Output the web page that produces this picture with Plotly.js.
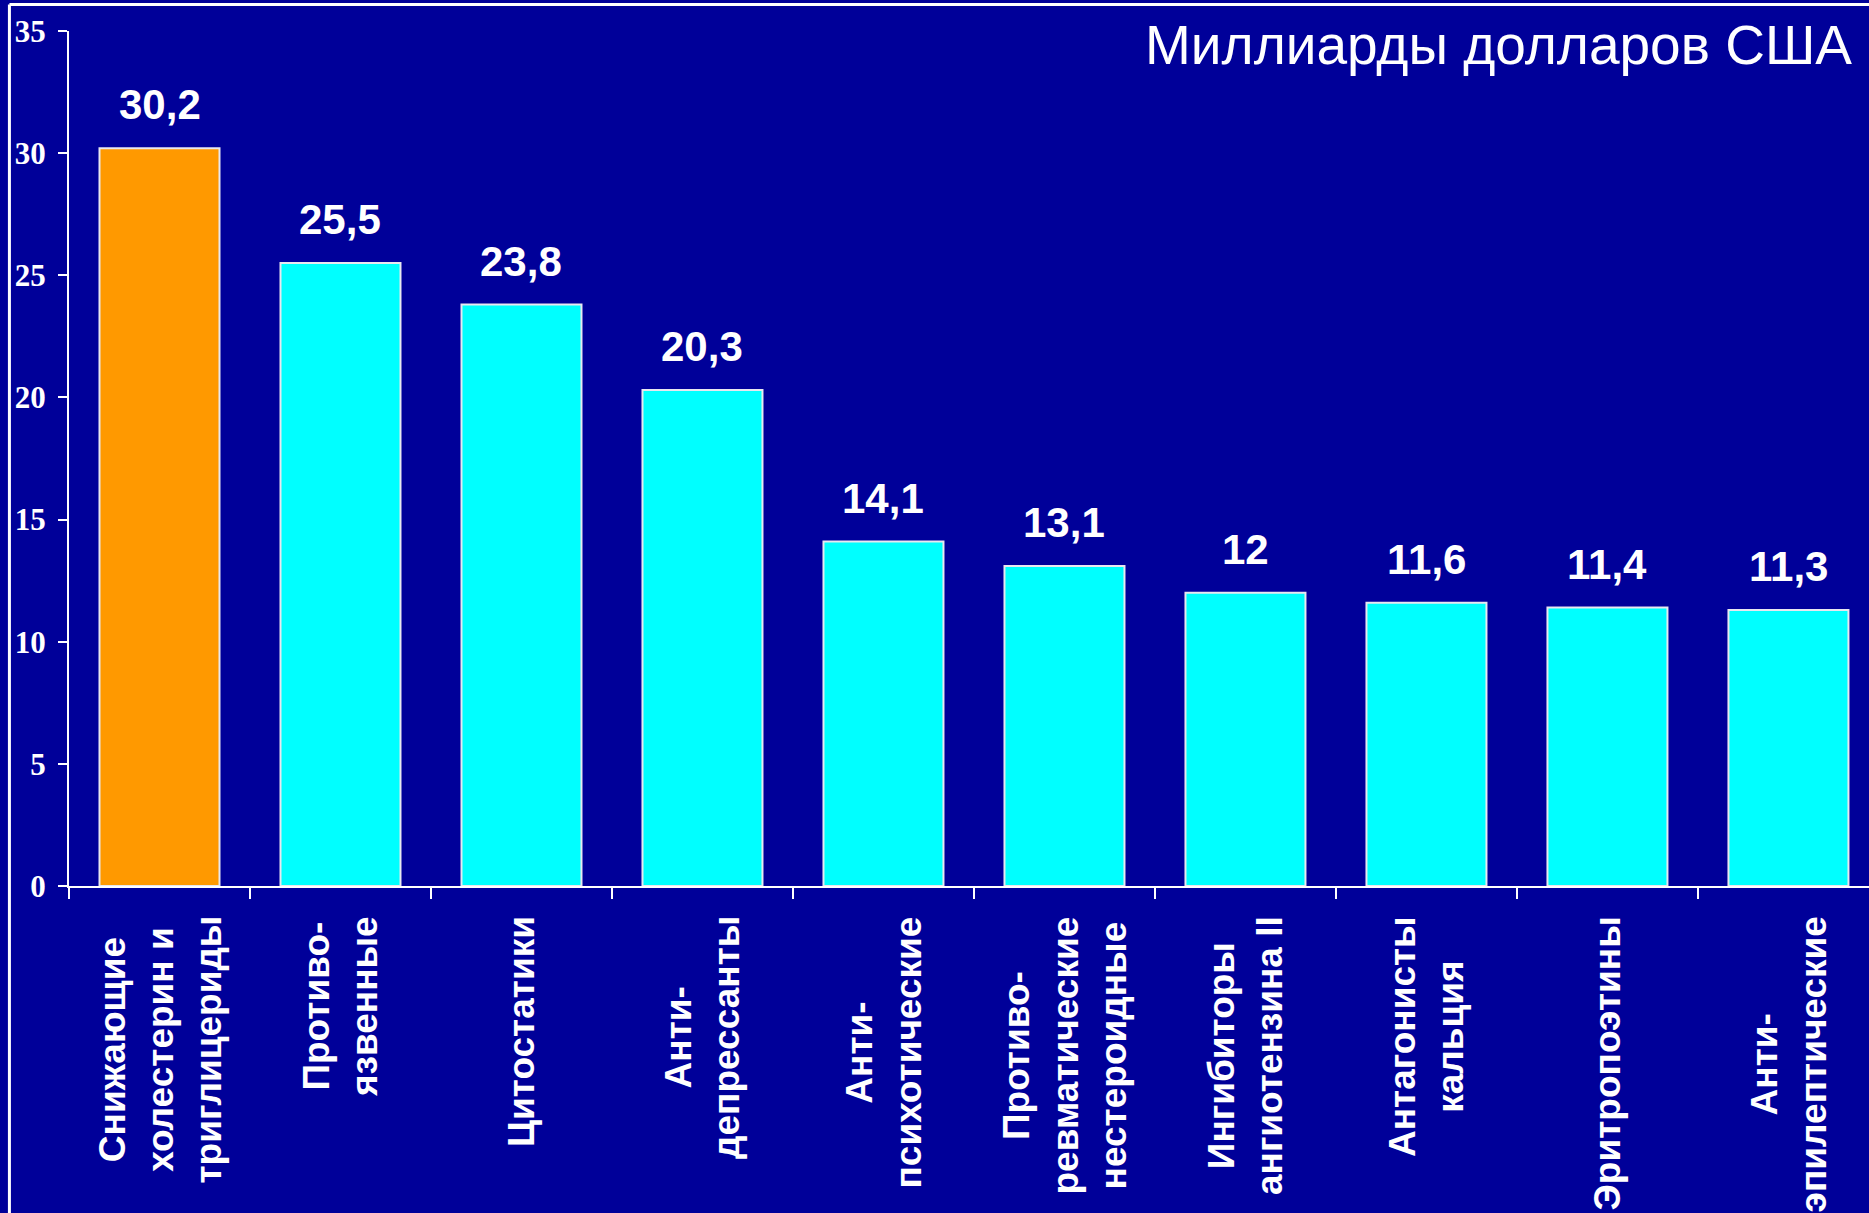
<!DOCTYPE html>
<html>
<head>
<meta charset="utf-8">
<script src="https://cdn.plot.ly/plotly-3.0.1.min.js"></script>
<style>
html,body{margin:0;padding:0;background:#000099;}
#chart{width:1869px;height:1213px;}
</style>
</head>
<body>
<div id="chart"></div>
<script>
const categories = [
  "Снижающие<br>холестерин и<br>триглицериды",
  "Противо-<br>язвенные",
  "Цитостатики",
  "Анти-<br>депрессанты",
  "Анти-<br>психотические",
  "Противо-<br>ревматические<br>нестероидные",
  "Ингибиторы<br>ангиотензина II",
  "Антагонисты<br>кальция",
  "Эритропоэтины",
  "Анти-<br>эпилептические"
];
const values = [30.2, 25.5, 23.8, 20.3, 14.1, 13.1, 12, 11.6, 11.4, 11.3];
const barColors = ["#FF9900", "#00FFFF", "#00FFFF", "#00FFFF", "#00FFFF", "#00FFFF", "#00FFFF", "#00FFFF", "#00FFFF", "#00FFFF"];
const yTicks = [0, 5, 10, 15, 20, 25, 30, 35];
const unitTitle = "Миллиарды долларов США";

const fmt = v => String(v).replace('.', ',');

const trace = {
  type: 'bar',
  x: categories,
  y: values,
  marker: {color: barColors, line: {color: '#E8E8F0', width: 2}},
  hoverinfo: 'none'
};

const annotations = [];
values.forEach((v, i) => {
  annotations.push({
    x: categories[i], y: v, xref: 'x', yref: 'y',
    text: fmt(v), showarrow: false,
    xanchor: 'center', yanchor: 'bottom', yshift: 18,
    font: {family: 'Liberation Sans, Arial, sans-serif', size: 42, color: '#FFFFFF', weight: 'bold'}
  });
  annotations.push({
    x: categories[i], y: 0, xref: 'x', yref: 'paper',
    text: '<b>' + categories[i] + '</b>', showarrow: false,
    textangle: -90, align: 'center',
    xanchor: 'center', yanchor: 'top', yshift: -28,
    font: {family: 'Liberation Sans, Arial, sans-serif', size: 37, color: '#FFFFFF'}
  });
});
annotations.push({
  x: 0.9917, y: 0.9836, xref: 'paper', yref: 'paper',
  text: unitTitle, showarrow: false, xanchor: 'right', yanchor: 'middle',
  font: {family: 'Liberation Sans, Arial, sans-serif', size: 55, color: '#FFFFFF'}
});

const layout = {
  width: 1869, height: 1213,
  margin: {l: 69, r: 0, t: 31, b: 327, pad: 0},
  paper_bgcolor: '#000099', plot_bgcolor: '#000099',
  showlegend: false,
  bargap: 0.337,
  xaxis: {
    type: 'category',
    range: [-0.5, 9.445],
    showgrid: false, zeroline: false,
    showline: true, linecolor: '#FFFFFF', linewidth: 2,
    ticks: 'outside', tickson: 'boundaries', ticklen: 11, tickwidth: 2, tickcolor: '#FFFFFF',
    showticklabels: false
  },
  yaxis: {
    range: [0, 35],
    tickvals: yTicks, ticktext: yTicks.map(String),
    showgrid: false, zeroline: false,
    showline: true, linecolor: '#FFFFFF', linewidth: 2,
    ticks: 'outside', ticklen: 9, tickwidth: 2, tickcolor: '#FFFFFF',
    ticklabelstandoff: 6,
    tickfont: {family: 'Liberation Serif, Times New Roman, serif', size: 31, color: '#FFFFFF', weight: 'bold'}
  },
  annotations: annotations,
  shapes: [
    {type: 'line', xref: 'paper', yref: 'paper', x0: -0.0331, x1: 1.2, y0: 1.031, y1: 1.031, line: {color: '#FFFFFF', width: 3}},
    {type: 'line', xref: 'paper', yref: 'paper', x0: -0.0331, x1: -0.0331, y0: 1.031, y1: -0.5, line: {color: '#FFFFFF', width: 3}}
  ]
};

Plotly.newPlot('chart', [trace], layout, {staticPlot: true, displayModeBar: false});
</script>
</body>
</html>
